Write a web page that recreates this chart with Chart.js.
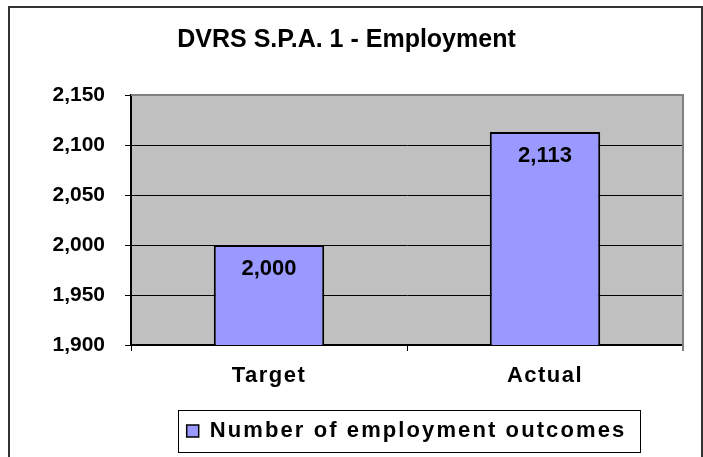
<!DOCTYPE html>
<html>
<head>
<meta charset="utf-8">
<script src="https://cdn.jsdelivr.net/npm/chart.js@4/dist/chart.umd.min.js"></script>
<style>
html,body{margin:0;padding:0;background:#fff;}
#wrap{width:703px;height:457px;position:relative;}
</style>
</head>
<body>
<div id="wrap"><canvas id="c" width="703" height="457"></canvas></div>
<script>
const chartTitle = 'DVRS S.P.A. 1 - Employment';
const categories = ['Target', 'Actual'];
const seriesName = 'Number of employment outcomes';
const seriesValues = [2000, 2113];
const yTicks = [1900, 1950, 2000, 2050, 2100, 2150];

const FONT = "'Liberation Sans', Arial, sans-serif";
const BAR_COLOR = '#9999FF';
const PLOT_BG = '#C0C0C0';
const LEGEND_SHIFT = 60;

const fmt = v => Number(v).toLocaleString('en-US');

const decorPlugin = {
  id: 'decor',
  beforeDraw(chart) {
    const {ctx, chartArea: a} = chart;
    ctx.save();
    ctx.fillStyle = '#fff';
    ctx.fillRect(0, 0, chart.width, chart.height);
    ctx.fillStyle = PLOT_BG;
    ctx.fillRect(a.left, a.top, a.right - a.left, a.bottom - a.top);
    ctx.strokeStyle = '#333';
    ctx.lineWidth = 2;
    ctx.beginPath();
    ctx.moveTo(9, chart.height + 2);
    ctx.lineTo(9, 7);
    ctx.lineTo(702, 7);
    ctx.lineTo(702, chart.height + 2);
    ctx.stroke();
    ctx.restore();
  },
  beforeDatasetsDraw(chart) {
    const {ctx, chartArea: a} = chart;
    ctx.save();
    ctx.strokeStyle = '#808080';
    ctx.lineWidth = 2;
    ctx.beginPath();
    ctx.moveTo(a.left, a.top);
    ctx.lineTo(a.right, a.top);
    ctx.lineTo(a.right, a.bottom + 6);
    ctx.stroke();
    ctx.restore();
  },
  afterDatasetsDraw(chart) {
    const {ctx} = chart;
    const meta = chart.getDatasetMeta(0);
    ctx.save();
    ctx.font = 'bold 22px ' + FONT;
    ctx.fillStyle = '#000';
    ctx.textAlign = 'center';
    ctx.textBaseline = 'middle';
    meta.data.forEach((bar, i) => {
      ctx.fillText(fmt(chart.data.datasets[0].data[i]), bar.x, bar.y + 24);
    });
    ctx.restore();
  },
  afterDraw(chart) {
    const lg = chart.legend;
    if (!lg || !lg.legendHitBoxes || !lg.legendHitBoxes.length) return;
    const hb = lg.legendHitBoxes[0];
    const {ctx} = chart;
    ctx.save();
    ctx.strokeStyle = '#000';
    ctx.lineWidth = 1;
    const cy = hb.top + hb.height / 2;
    ctx.strokeRect(Math.round(hb.left + LEGEND_SHIFT - 9) + 0.5, Math.round(cy - 21) + 0.5,
                   Math.round(hb.width + 22), 42);
    ctx.restore();
  }
};

const config = {
  type: 'bar',
  data: {
    labels: categories,
    datasets: [{
      label: seriesName,
      data: seriesValues,
      backgroundColor: BAR_COLOR,
      borderColor: '#000',
      borderWidth: 2,
      borderSkipped: false,
      categoryPercentage: 1.0,
      barPercentage: 0.4
    }]
  },
  options: {
    responsive: false,
    animation: false,
    devicePixelRatio: 1,
    layout: { padding: { left: 10, right: 20, top: 0, bottom: 5 } },
    plugins: {
      title: {
        display: true,
        text: chartTitle,
        color: '#000',
        font: { family: FONT, size: 25, weight: 'bold' },
        padding: { top: 25, bottom: 40 }
      },
      legend: {
        display: true,
        position: 'bottom',
        labels: {
          color: '#000',
          font: { family: FONT, size: 22, weight: 'bold' },
          boxWidth: 12,
          boxHeight: 12,
          padding: 10,
          generateLabels(chart) {
            const ds = chart.data.datasets[0];
            return [{
              text: ds.label,
              fillStyle: ds.backgroundColor,
              strokeStyle: '#000',
              lineWidth: 1.5,
              fontColor: '#000',
              datasetIndex: 0
            }];
          }
        }
      },
      tooltip: { enabled: false }
    },
    scales: {
      x: {
        offset: true,
        grid: {
          offset: true,
          drawOnChartArea: false,
          drawTicks: true,
          tickLength: 6,
          color: '#000'
        },
        border: { display: true, color: '#000', width: 2 },
        ticks: {
          color: '#000',
          font: { family: FONT, size: 22, weight: 'bold' },
          padding: 12
        },
        afterFit(scale) { scale.height = 65; }
      },
      y: {
        min: yTicks[0],
        max: yTicks[yTicks.length - 1],
        afterBuildTicks(scale) { scale.ticks = yTicks.map(v => ({value: v})); },
        grid: {
          color: ctx => (ctx.tick && ctx.tick.value === yTicks[yTicks.length - 1]) ? '#808080' : '#000',
          tickColor: '#000',
          lineWidth: 1,
          tickLength: 6,
          drawTicks: true
        },
        border: { display: true, color: '#000', width: 2 },
        ticks: {
          color: '#000',
          font: { family: FONT, size: 21, weight: 'bold' },
          padding: 20,
          callback: v => fmt(v)
        },
        afterFit(scale) { scale.width = 121; }
      }
    }
  },
  plugins: [decorPlugin]
};

const chart = new Chart(document.getElementById('c').getContext('2d'), config);

// Excel-like wide letter spacing for legend and category labels
const LEGEND_SPACING = '2.1px';
const lg = chart.legend;
const fit0 = lg.fit.bind(lg);
const draw0 = lg.draw.bind(lg);
lg.fit = function () { this.ctx.letterSpacing = LEGEND_SPACING; fit0(); this.ctx.letterSpacing = '0px'; };
lg.draw = function () {
  this.ctx.save();
  this.ctx.translate(LEGEND_SHIFT, 0);
  this.ctx.letterSpacing = LEGEND_SPACING;
  draw0();
  this.ctx.letterSpacing = '0px';
  this.ctx.restore();
};
const xs = chart.scales.x;
const xLabels0 = xs.drawLabels.bind(xs);
xs.drawLabels = function (a) { this.ctx.letterSpacing = '1.5px'; xLabels0(a); this.ctx.letterSpacing = '0px'; };
chart.update('none');
</script>
</body>
</html>
